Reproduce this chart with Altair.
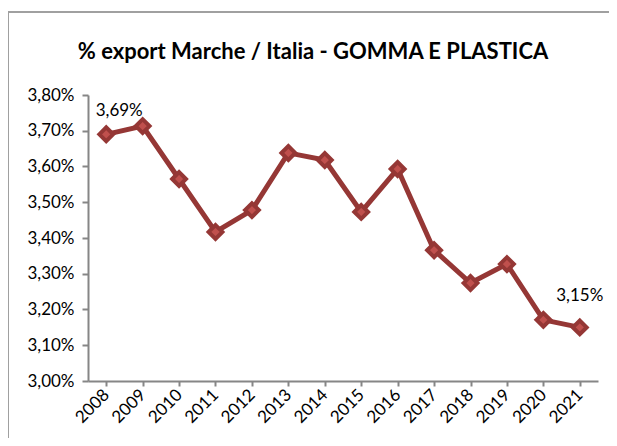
import altair as alt
import pandas as pd

years = ["2008", "2009", "2010", "2011", "2012", "2013", "2014",
         "2015", "2016", "2017", "2018", "2019", "2020", "2021"]
share = [3.69, 3.713, 3.565, 3.417, 3.478, 3.638, 3.618,
         3.473, 3.593, 3.366, 3.274, 3.327, 3.171, 3.15]
label_years = ["2008", "2021"]

df = pd.DataFrame({"year": years, "share": share})
df["label"] = [("%.2f%%" % v).replace(".", ",") if y in label_years else ""
               for y, v in zip(years, share)]

FONT = "Lato"
FS = 17
LINE = "#953735"
FILL = "#C0504D"
AXIS = "#868686"

x = alt.X("year:N", sort=years, title=None,
          scale=alt.Scale(paddingInner=0, paddingOuter=0),
          axis=alt.Axis(labelAngle=-45, labelAlign="right", labelBaseline="middle",
                        labelFontSize=FS, labelFont=FONT, labelColor="#000000",
                        labelPadding=6, tickSize=5, bandPosition=0, tickColor=AXIS,
                        domainColor=AXIS, domainWidth=2, tickWidth=2, grid=False))
y = alt.Y("share:Q", title=None,
          scale=alt.Scale(domain=[3.0, 3.8], nice=False, zero=False),
          axis=alt.Axis(values=[3.0, 3.1, 3.2, 3.3, 3.4, 3.5, 3.6, 3.7, 3.8],
                        labelExpr="replace(format(datum.value, '.2f'), '.', ',') + '%'",
                        labelFontSize=FS, labelFont=FONT, labelColor="#000000",
                        labelPadding=8, tickSize=6, tickColor=AXIS, domainColor=AXIS,
                        domainWidth=2, tickWidth=2, grid=False))

frame = alt.Chart(pd.DataFrame({"a": [0]})).mark_rect(
    fill=None, stroke="#A0A0A0", strokeWidth=2
).encode(x=alt.value(-80), x2=alt.value(540), y=alt.value(-83), y2=alt.value(420))

line = alt.Chart(df).mark_line(color=LINE, strokeWidth=5).encode(x=x, y=y)
points = alt.Chart(df).mark_point(
    shape="diamond", filled=True, fill=FILL, stroke=LINE, strokeWidth=4,
    size=190, opacity=1
).encode(x=x, y=y)

lab_first = alt.Chart(df).transform_filter(alt.datum.year == "2008").mark_text(
    font=FONT, fontSize=FS, color="#000000", dx=13, dy=-23
).encode(x=x, y=y, text="label:N")
lab_last = alt.Chart(df).transform_filter(alt.datum.year == "2021").mark_text(
    font=FONT, fontSize=FS, color="#000000", dx=0, dy=-31
).encode(x=x, y=y, text="label:N")

chart = alt.layer(frame, line, points, lab_first, lab_last).properties(
    width=510, height=286,
    autosize=alt.AutoSizeParams(type="none"),
    padding={"left": 80, "top": 87, "right": 11, "bottom": 57},
    title=alt.TitleParams("% export Marche / Italia - GOMMA E PLASTICA",
                          font=FONT, fontSize=22, fontWeight="bold", color="#000000",
                          anchor="middle", frame="group", baseline="alphabetic",
                          dx=-30, dy=110, offset=40)
).configure(background="white").configure_view(stroke=None)

chart.save("out.html", embed_options={"renderer": "svg", "actions": False})
